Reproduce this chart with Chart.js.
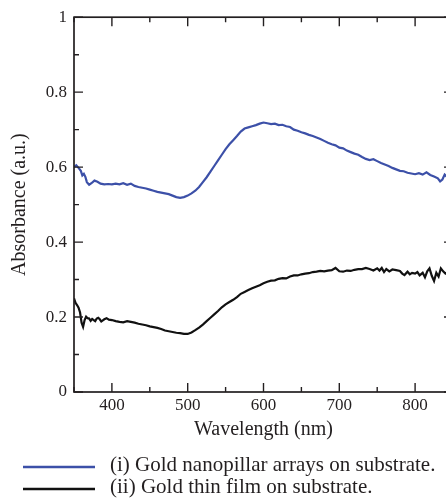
<!DOCTYPE html>
<html>
<head>
<meta charset="utf-8">
<script src="https://cdn.jsdelivr.net/npm/chart.js@4.4.1/dist/chart.umd.min.js"></script>
<style>
  html, body { margin: 0; padding: 0; background: #fff; overflow: hidden; }
  #wrap { position: relative; width: 446px; height: 499px; overflow: hidden; }
</style>
</head>
<body>
<div id="wrap"><canvas id="chart" width="456" height="499"></canvas></div>
<script>
// --- data ---
const seriesLabels = ['(i) Gold nanopillar arrays on substrate.', '(ii) Gold thin film on substrate.'];

const pillarWavelength = [350,353,356,359,361,363,365,367,370,373,377,381,385,390,395,400,405,410,415,420,425,430,435,440,445,450,455,460,465,470,475,480,485,490,495,500,505,510,515,520,525,530,535,540,545,550,555,560,565,570,575,580,585,590,595,600,605,610,615,620,625,630,635,640,645,650,655,660,665,670,675,680,685,690,695,700,705,710,715,720,725,730,735,740,745,750,755,760,765,770,775,780,785,790,795,800,805,810,815,820,825,830,833,836,839,842,846,850];
const pillarAbs = [0.600,0.605,0.598,0.590,0.578,0.582,0.574,0.560,0.553,0.557,0.564,0.561,0.556,0.554,0.555,0.554,0.556,0.554,0.557,0.553,0.556,0.550,0.547,0.545,0.543,0.540,0.537,0.534,0.532,0.530,0.528,0.524,0.520,0.518,0.520,0.524,0.530,0.537,0.547,0.560,0.573,0.588,0.603,0.618,0.633,0.648,0.661,0.672,0.683,0.695,0.703,0.706,0.709,0.712,0.716,0.719,0.717,0.715,0.716,0.712,0.713,0.709,0.707,0.700,0.697,0.693,0.690,0.686,0.683,0.679,0.675,0.670,0.665,0.661,0.658,0.652,0.650,0.644,0.640,0.636,0.633,0.627,0.622,0.619,0.621,0.616,0.611,0.607,0.603,0.598,0.594,0.590,0.589,0.585,0.583,0.581,0.584,0.580,0.586,0.579,0.575,0.570,0.562,0.567,0.580,0.574,0.570,0.572];

const filmWavelength = [350,352,354,356,358,360,362,364,366,368,370,372,374,376,378,380,382,384,386,388,390,393,396,400,405,410,415,420,425,430,435,440,445,450,455,460,465,470,475,480,485,490,495,500,505,510,515,520,525,530,535,540,545,550,555,560,565,570,575,580,585,590,595,600,605,610,615,620,625,630,635,640,645,650,655,660,665,670,675,680,685,690,695,700,705,710,715,720,725,730,735,740,745,750,753,756,759,762,766,770,775,780,783,786,790,793,796,800,803,806,810,813,816,819,822,825,828,831,834,837,840,844,848,850];
const filmAbs = [0.250,0.238,0.232,0.225,0.212,0.185,0.174,0.192,0.201,0.197,0.196,0.190,0.195,0.192,0.189,0.196,0.198,0.194,0.188,0.191,0.194,0.197,0.193,0.192,0.189,0.187,0.186,0.189,0.187,0.185,0.182,0.180,0.178,0.175,0.173,0.171,0.168,0.164,0.162,0.160,0.158,0.157,0.155,0.155,0.159,0.165,0.172,0.180,0.189,0.198,0.207,0.216,0.226,0.234,0.240,0.246,0.253,0.262,0.267,0.272,0.277,0.281,0.285,0.290,0.294,0.297,0.298,0.302,0.304,0.303,0.308,0.311,0.311,0.314,0.316,0.317,0.320,0.321,0.323,0.322,0.324,0.325,0.331,0.322,0.321,0.324,0.323,0.326,0.328,0.328,0.331,0.328,0.324,0.330,0.324,0.331,0.320,0.328,0.322,0.327,0.325,0.323,0.316,0.312,0.321,0.314,0.318,0.316,0.320,0.311,0.318,0.306,0.322,0.330,0.310,0.296,0.318,0.308,0.330,0.322,0.316,0.322,0.318,0.320];

const seriesColors = ['#3c50a8', '#111111'];

const toPoints = (xs, ys) => xs.map((x, i) => ({ x: x, y: ys[i] }));

const SERIF = '"Liberation Serif", "Times New Roman", serif';
const INK = '#231f20';

// frame with inward ticks (major = labelled tick)
const frameTicks = {
  id: 'frameTicks',
  afterDraw(chart) {
    const ctx = chart.ctx;
    const a = chart.chartArea;
    const xs = chart.scales.x, ys = chart.scales.y;
    ctx.save();
    ctx.strokeStyle = INK;
    ctx.lineWidth = 1.7;
    ctx.strokeRect(a.left, a.top, a.right - a.left, a.bottom - a.top);
    ctx.lineWidth = 1.4;
    ctx.beginPath();
    xs.ticks.forEach(t => {
      const px = xs.getPixelForValue(t.value);
      const len = t.label !== '' ? 9 : 5;
      ctx.moveTo(px, a.bottom); ctx.lineTo(px, a.bottom - len);
      ctx.moveTo(px, a.top); ctx.lineTo(px, a.top + len);
    });
    ys.ticks.forEach(t => {
      const py = ys.getPixelForValue(t.value);
      const len = t.label !== '' ? 9 : 5;
      ctx.moveTo(a.left, py); ctx.lineTo(a.left + len, py);
      ctx.moveTo(a.right, py); ctx.lineTo(a.right - len, py);
    });
    ctx.stroke();
    ctx.restore();
  }
};

// legend below the axis, one entry per row
const rowLegend = {
  id: 'rowLegend',
  afterDraw(chart) {
    const ctx = chart.ctx;
    ctx.save();
    ctx.font = '21px ' + SERIF;
    ctx.textBaseline = 'middle';
    ctx.fillStyle = INK;
    chart.data.datasets.forEach((ds, i) => {
      const y = 467 + i * 22;
      ctx.strokeStyle = ds.borderColor;
      ctx.lineWidth = 2.5;
      ctx.beginPath();
      ctx.moveTo(23, y); ctx.lineTo(95, y);
      ctx.stroke();
      ctx.fillText(ds.label, 110, y - 2);
    });
    ctx.restore();
  }
};

new Chart(document.getElementById('chart').getContext('2d'), {
  type: 'line',
  data: {
    datasets: [
      { label: seriesLabels[0], data: toPoints(pillarWavelength, pillarAbs), borderColor: seriesColors[0], borderWidth: 2.2, pointRadius: 0, tension: 0 },
      { label: seriesLabels[1], data: toPoints(filmWavelength, filmAbs), borderColor: seriesColors[1], borderWidth: 2.2, pointRadius: 0, tension: 0 }
    ]
  },
  options: {
    responsive: false,
    animation: false,
    layout: { padding: { top: 16, left: 0, right: 2, bottom: 0 } },
    plugins: { legend: { display: false }, tooltip: { enabled: false } },
    scales: {
      x: {
        type: 'linear', min: 350, max: 850,
        grid: { display: false, drawTicks: false }, border: { display: false },
        ticks: {
          stepSize: 50, autoSkip: false, maxRotation: 0, padding: 3,
          color: INK, font: { family: SERIF, size: 17 },
          callback: v => (v % 100 === 0 ? String(v) : '')
        },
        title: { display: true, text: 'Wavelength (nm)', color: INK, font: { family: SERIF, size: 20 }, padding: { top: 0, bottom: 57 } },
        afterFit: s => { s.height = 107; }
      },
      y: {
        min: 0, max: 1,
        grid: { display: false, drawTicks: false }, border: { display: false },
        ticks: {
          stepSize: 0.1, autoSkip: false, padding: 7,
          color: INK, font: { family: SERIF, size: 17 },
          callback: v => (Math.round(v * 10) % 2 === 0 ? String(Math.round(v * 10) / 10) : '')
        },
        title: { display: true, text: 'Absorbance (a.u.)', color: INK, font: { family: SERIF, size: 20 }, padding: { top: 8, bottom: 0 } },
        afterFit: s => { s.width = 74; }
      }
    }
  },
  plugins: [frameTicks, rowLegend]
});
</script>
</body>
</html>
